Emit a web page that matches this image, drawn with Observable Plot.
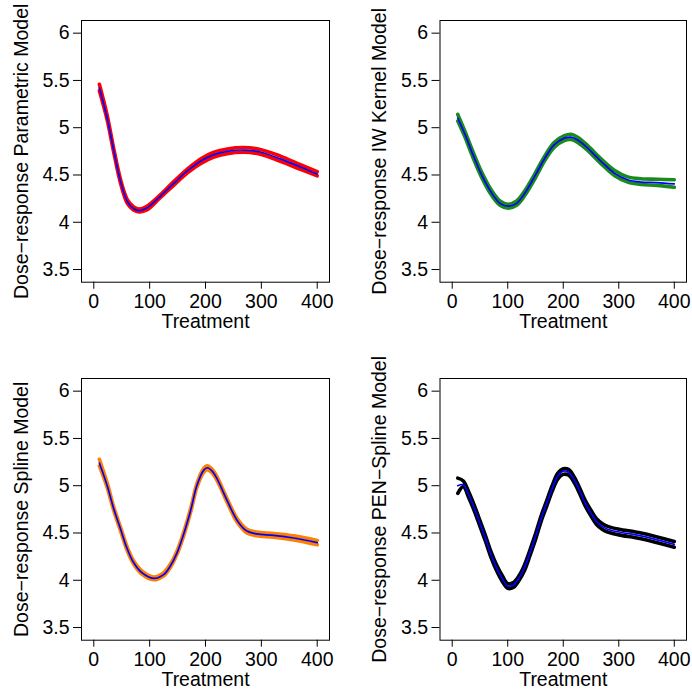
<!DOCTYPE html>
<html><head><meta charset="utf-8">
<script src="https://cdn.jsdelivr.net/npm/d3@7"></script>
<script src="https://cdn.jsdelivr.net/npm/@observablehq/plot@0.6"></script>
<style>
html,body{margin:0;padding:0;background:#fff;}
#wrap{position:relative;width:692px;height:695px;overflow:hidden;background:#fff;}
#wrap > .pnl{position:absolute;}
</style></head><body><div id="wrap"></div>
<script>
// ---- data ----
const xTicks = [0, 100, 200, 300, 400];
const yTicks = [3.5, 4, 4.5, 5, 5.5, 6];
const xLabel = "Treatment";

// Panel 1: Parametric model (red band)
const p1Dose  = [10, 24, 36, 48, 60, 71, 81, 95, 119, 143, 167, 191, 215, 239, 268, 298, 334, 370, 400];
const p1Mean  = [5.42, 5.10, 4.75, 4.43, 4.22, 4.145, 4.123, 4.15, 4.275, 4.41, 4.54, 4.645, 4.715, 4.75, 4.764, 4.743, 4.67, 4.585, 4.51];
const p1Upper = [5.46, 5.13, 4.77, 4.45, 4.24, 4.165, 4.14, 4.17, 4.29, 4.43, 4.56, 4.67, 4.74, 4.775, 4.79, 4.77, 4.70, 4.61, 4.535];
const p1Lower = [5.39, 5.08, 4.73, 4.41, 4.20, 4.13, 4.11, 4.13, 4.26, 4.39, 4.52, 4.62, 4.69, 4.725, 4.74, 4.72, 4.645, 4.56, 4.49];

// Panel 2: IW Kernel model (green band)
const p2Dose  = [10, 23, 35, 53, 71, 86, 101, 116, 131, 149, 167, 184, 202, 214, 226, 244, 268, 292, 316, 340, 369, 400];
const p2Mean  = [5.10, 4.93, 4.75, 4.50, 4.31, 4.20, 4.17, 4.20, 4.31, 4.49, 4.68, 4.82, 4.89, 4.90, 4.87, 4.785, 4.645, 4.52, 4.45, 4.425, 4.42, 4.405];
const p2Upper = [5.14, 4.96, 4.78, 4.53, 4.335, 4.225, 4.19, 4.225, 4.335, 4.515, 4.705, 4.845, 4.915, 4.93, 4.90, 4.81, 4.67, 4.55, 4.48, 4.46, 4.455, 4.45];
const p2Lower = [5.07, 4.90, 4.72, 4.475, 4.285, 4.18, 4.15, 4.18, 4.285, 4.46, 4.655, 4.795, 4.865, 4.875, 4.845, 4.76, 4.62, 4.495, 4.425, 4.40, 4.39, 4.37];

// Panel 3: Spline model (orange band)
const p3Dose  = [10, 24, 36, 48, 59, 71, 86, 107, 125, 137, 149, 161, 173, 185, 197, 203, 212, 221, 239, 257, 274, 292, 322, 358, 400];
const p3Mean  = [5.24, 5.00, 4.75, 4.54, 4.345, 4.19, 4.08, 4.02, 4.06, 4.15, 4.29, 4.49, 4.73, 5.01, 5.165, 5.19, 5.155, 5.07, 4.84, 4.63, 4.52, 4.49, 4.475, 4.447, 4.398];
const p3Upper = [5.28, 5.03, 4.77, 4.56, 4.365, 4.21, 4.10, 4.035, 4.08, 4.17, 4.31, 4.51, 4.75, 5.03, 5.185, 5.21, 5.175, 5.09, 4.86, 4.65, 4.54, 4.51, 4.495, 4.47, 4.42];
const p3Lower = [5.21, 4.98, 4.73, 4.52, 4.325, 4.175, 4.065, 4.005, 4.045, 4.135, 4.275, 4.47, 4.71, 4.99, 5.145, 5.17, 5.135, 5.05, 4.82, 4.61, 4.50, 4.47, 4.455, 4.425, 4.375];

// Panel 4: PEN-Spline model (black band)
const p4Dose  = [10, 20, 30, 40, 50, 60, 70, 80, 90, 100, 110, 120, 130, 140, 150, 160, 170, 180, 190, 200, 210, 220, 230, 240, 250, 260, 270, 280, 300, 340, 400];
const p4Mean  = [5.00, 5.01, 4.90, 4.76, 4.60, 4.44, 4.27, 4.13, 4.02, 3.94, 3.95, 4.02, 4.13, 4.29, 4.46, 4.65, 4.81, 4.97, 5.10, 5.155, 5.14, 5.06, 4.94, 4.81, 4.71, 4.62, 4.57, 4.54, 4.51, 4.47, 4.38];
const p4Upper = [5.08, 5.05, 4.93, 4.79, 4.63, 4.47, 4.30, 4.16, 4.05, 3.965, 3.975, 4.045, 4.16, 4.32, 4.49, 4.68, 4.84, 5.00, 5.13, 5.18, 5.17, 5.09, 4.97, 4.84, 4.74, 4.65, 4.60, 4.57, 4.54, 4.50, 4.41];
const p4Lower = [4.92, 4.99, 4.87, 4.73, 4.57, 4.41, 4.24, 4.10, 3.99, 3.915, 3.925, 3.995, 4.10, 4.26, 4.43, 4.62, 4.78, 4.94, 5.07, 5.12, 5.11, 5.03, 4.91, 4.78, 4.68, 4.59, 4.54, 4.51, 4.48, 4.44, 4.35];

const panels = [
  {dose: p1Dose, mean: p1Mean, upper: p1Upper, lower: p1Lower, color: "#FF0000", ylabel: "Dose\u2212response Parametric Model",
   left: 0, top: 0, width: 346, height: 347, ml: 81, mr: 17, mt: 20, mb: 65.3},
  {dose: p2Dose, mean: p2Mean, upper: p2Upper, lower: p2Lower, color: "#1A8A1A", ylabel: "Dose\u2212response IW Kernel Model",
   left: 346, top: 0, width: 346, height: 347, ml: 93.5, mr: 6, mt: 20, mb: 65.3},
  {dose: p3Dose, mean: p3Mean, upper: p3Upper, lower: p3Lower, color: "#FF7F00", ylabel: "Dose\u2212response Spline Model",
   left: 0, top: 347, width: 346, height: 348, ml: 81, mr: 17, mt: 31, mb: 55.3},
  {dose: p4Dose, mean: p4Mean, upper: p4Upper, lower: p4Lower, color: "#000000", ylabel: "Dose\u2212response PEN\u2212Spline Model",
   left: 346, top: 347, width: 346, height: 348, ml: 93.5, mr: 6, mt: 31, mb: 55.3}
];

const FONT = "'Liberation Sans', Arial, Helvetica, sans-serif";
const wrap = document.getElementById("wrap");

for (const p of panels) {
  const rows = p.dose.map((d, i) => ({dose: d, mean: p.mean[i], upper: p.upper[i], lower: p.lower[i]}));
  const chart = Plot.plot({
    width: p.width, height: p.height,
    marginLeft: p.ml, marginRight: p.mr, marginTop: p.mt, marginBottom: p.mb,
    style: {fontFamily: FONT, fontSize: "19.5px", color: "#000", background: "#fff", overflow: "visible"},
    x: {domain: [-22, 422], ticks: xTicks, tickSize: 7, tickPadding: 5, label: null, tickFormat: d => String(d)},
    y: {domain: [3.366, 6.134], ticks: yTicks, tickSize: 8, tickPadding: 4, label: null, tickFormat: d => String(d)},
    marks: [
      Plot.frame({stroke: "#000", strokeWidth: 1}),
      Plot.line(rows, {x: "dose", y: "upper", stroke: p.color, strokeWidth: 3.6, curve: "catmull-rom"}),
      Plot.line(rows, {x: "dose", y: "lower", stroke: p.color, strokeWidth: 3.6, curve: "catmull-rom"}),
      Plot.line(rows, {x: "dose", y: "mean", stroke: "#0000FF", strokeWidth: 1.7, curve: "catmull-rom"}),
      Plot.text([xLabel], {text: d => d, frameAnchor: "bottom", textAnchor: "middle", lineAnchor: "bottom", dy: 46, fill: "#000"}),
      Plot.text([p.ylabel], {text: d => d, frameAnchor: "left", rotate: -90, textAnchor: "middle", lineAnchor: "middle", dx: -60, fill: "#000"})
    ]
  });
  const div = document.createElement("div");
  div.className = "pnl";
  div.style.left = p.left + "px";
  div.style.top = p.top + "px";
  div.appendChild(chart);
  wrap.appendChild(div);
}
</script>
</body></html>
